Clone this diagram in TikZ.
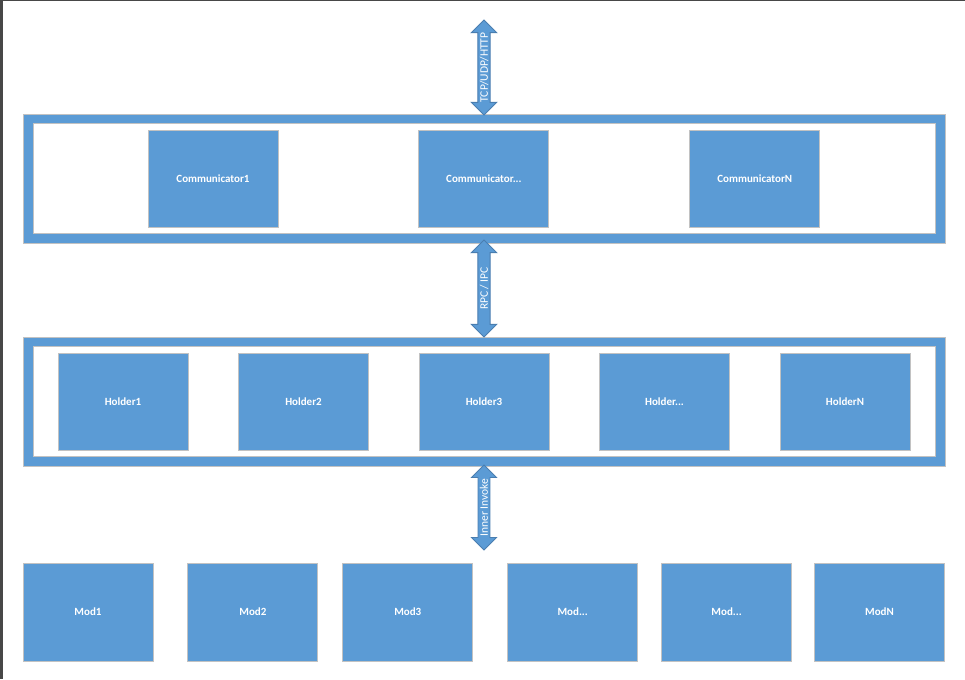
\documentclass[tikz,border=0pt]{standalone}
\usepackage{fontspec}
\setmainfont{Carlito}
\usetikzlibrary{positioning, shapes.arrows}
\definecolor{boxblue}{HTML}{5B9BD5}
\definecolor{boxline}{HTML}{C2C2C2}
\definecolor{arrowline}{HTML}{4A7EB0}
\definecolor{edgegray}{HTML}{474747}

\begin{document}
\begin{tikzpicture}[x = 1pt, y = -1pt, line width = 0.9pt,
  box/.style={rectangle, draw = boxline, fill = boxblue, minimum width = 130pt, minimum height = 97pt, inner sep = 0pt, text = white, font = \fontsize{11}{13}\selectfont\bfseries},
  frame/.style={rectangle, draw = boxline, fill = boxblue, minimum width = 922pt, minimum height = 129pt, inner sep = 0pt},
  hole/.style={rectangle, draw = boxline, fill = white, minimum width = 902pt, minimum height = 110pt, inner sep = 0pt},
  link/.style={double arrow, draw = arrowline, fill = boxblue, rotate = 90, inner sep = 1.5pt, double arrow head extend = 6.5pt, text = white, font = \fontsize{11.5}{13}\selectfont}]
  \useasboundingbox (0,0) rectangle (965,679);
  \fill [edgegray] (0,0) rectangle (3,679);
  \fill [edgegray] (0,0) rectangle (965,1.5);

  % frames
  \node [frame] (comframe) at (484,178.5) {};
  \node [hole] (comhole) at (comframe.center) {};
  \node [frame] (holdframe) at (484,401.5) {};
  \node [hole] (holdhole) at (holdframe.center) {};

  % communicators
  \node [box] (com1) at (213,178.5) {Communicator1};
  \node [box] [right = 140pt of com1] (com2) {Communicator...};
  \node [box] [right = 140pt of com2] (comN) {CommunicatorN};

  % holders
  \node [box] (holder1) at (123,401.5) {Holder1};
  \node [box] [right = 49.6pt of holder1] (holder2) {Holder2};
  \node [box] [right = 49.6pt of holder2] (holder3) {Holder3};
  \node [box] [right = 49.6pt of holder3] (holder4) {Holder...};
  \node [box] [right = 49.6pt of holder4] (holderN) {HolderN};

  % modules
  \node [box, minimum height = 98pt] (mod1) at (88,612) {Mod1};
  \node [box, minimum height = 98pt] [right = 34pt of mod1] (mod2) {Mod2};
  \node [box, minimum height = 98pt] [right = 24pt of mod2] (mod3) {Mod3};
  \node [box, minimum height = 98pt] [right = 34pt of mod3] (mod4) {Mod...};
  \node [box, minimum height = 98pt] [right = 23pt of mod4] (mod5) {Mod...};
  \node [box, minimum height = 98pt] [right = 22pt of mod5] (modN) {ModN};

  % links
  \node [link, minimum height = 95pt] (net) at (484,67.5) {TCP/UDP/HTTP};
  \node [link, minimum height = 97pt] (rpc) at (484,288.5) {RPC / IPC};
  \node [link, minimum height = 85pt] (invoke) at (484,507.5) {Inner Invoke};
\end{tikzpicture}
\end{document}
